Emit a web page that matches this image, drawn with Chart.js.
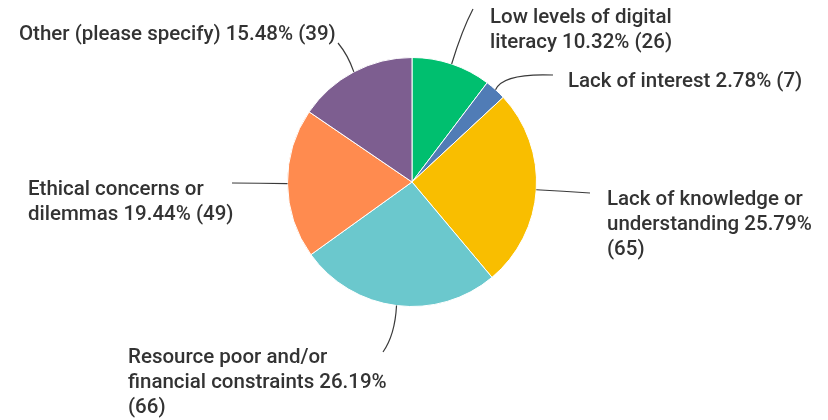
<!DOCTYPE html>
<html>
<head>
<meta charset="utf-8">
<script src="https://cdn.jsdelivr.net/npm/chart.js@4/dist/chart.umd.min.js"></script>
<style>
  html, body { margin: 0; padding: 0; background: #ffffff; }
  #wrap { width: 828px; height: 420px; }
</style>
</head>
<body>
<div id="wrap"><canvas id="c" width="828" height="420"></canvas></div>
<script>
// Survey answers, clockwise from 12 o'clock
const categories = [
  'Low levels of digital literacy',
  'Lack of interest',
  'Lack of knowledge or understanding',
  'Resource poor and/or financial constraints',
  'Ethical concerns or dilemmas',
  'Other (please specify)'
];
const responses = [26, 7, 65, 66, 49, 39];
const sliceColors = ['#00bf6f', '#507cb6', '#f9be00', '#6bc8cd', '#ff8b4f', '#7d5e90'];

// How many words go on each label line (remaining words fill the last line)
const wordsPerLine = [[4], [], [4, 2], [3, 3], [3], []];
// Label text box: left x, centre y of first line; leader end point and bend
const labelBoxes = [
  { x: 490, y: 18, ex: 473, ey: 9, bend: [462, 30] },
  { x: 568, y: 82, ex: 553, ey: 75, bend: [503, 73] },
  { x: 607, y: 200, ex: 590, ey: 193, bend: [563, 191] },
  { x: 128, y: 358, ex: 383, ey: 352, bend: [395, 335] },
  { x: 28, y: 190, ex: 232, ey: 183, bend: [260, 183] },
  { x: 19, y: 35, ex: 338, ey: 43, bend: [348, 55] }
];

const total = responses.reduce((a, b) => a + b, 0);

function labelLines(i) {
  const pct = (responses[i] / total * 100).toFixed(2) + '%';
  const words = (categories[i] + ' ' + pct + ' (' + responses[i] + ')').split(' ');
  const lines = [];
  let k = 0;
  for (const n of wordsPerLine[i]) {
    lines.push(words.slice(k, k + n).join(' '));
    k += n;
  }
  if (k < words.length) lines.push(words.slice(k).join(' '));
  return lines;
}

const outsideLabels = {
  id: 'outsideLabels',
  afterDatasetsDraw(chart) {
    const ctx = chart.ctx;
    const arcs = chart.getDatasetMeta(0).data;
    ctx.save();
    arcs.forEach((arc, i) => {
      const mid = (arc.startAngle + arc.endAngle) / 2;
      const sx = arc.x + Math.cos(mid) * arc.outerRadius;
      const sy = arc.y + Math.sin(mid) * arc.outerRadius;
      const b = labelBoxes[i];
      ctx.beginPath();
      ctx.moveTo(sx, sy);
      ctx.quadraticCurveTo(b.bend[0], b.bend[1], b.ex, b.ey);
      ctx.strokeStyle = '#3a3a3a';
      ctx.lineWidth = 1.2;
      ctx.stroke();

      ctx.fillStyle = '#333333';
      ctx.font = '500 20.5px Roboto, "Liberation Sans", sans-serif';
      ctx.textAlign = 'left';
      ctx.textBaseline = 'middle';
      labelLines(i).forEach((line, j) => {
        ctx.fillText(line, b.x, b.y + j * 25);
      });
    });
    ctx.restore();
  }
};

new Chart(document.getElementById('c'), {
  type: 'pie',
  data: {
    labels: categories,
    datasets: [{
      data: responses,
      backgroundColor: sliceColors,
      borderColor: '#ffffff',
      borderWidth: 1
    }]
  },
  options: {
    responsive: false,
    animation: false,
    layout: { padding: { left: 287, right: 291, top: 57, bottom: 113 } },
    plugins: {
      legend: { display: false },
      tooltip: { enabled: false }
    }
  },
  plugins: [outsideLabels]
});
</script>
</body>
</html>
